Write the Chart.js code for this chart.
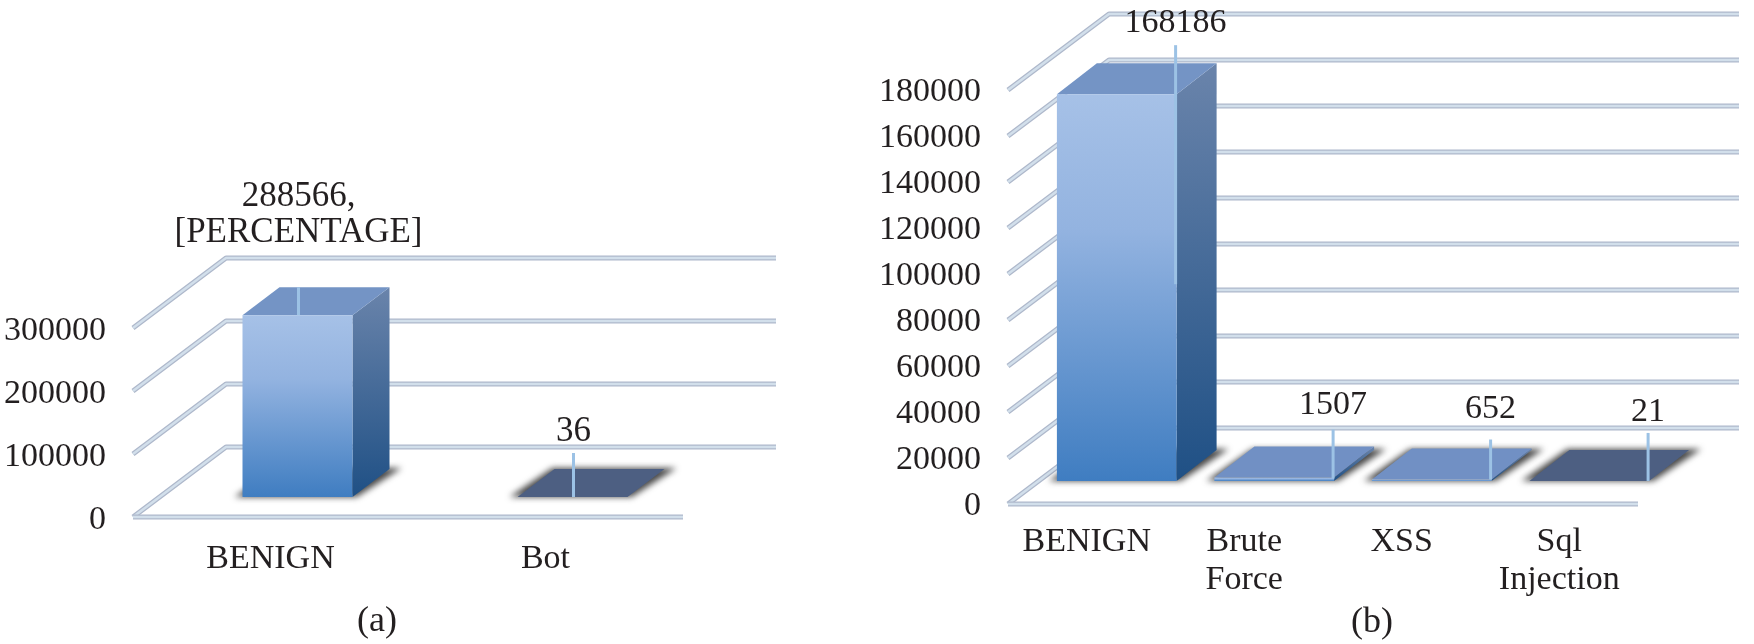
<!DOCTYPE html>
<html>
<head>
<meta charset="utf-8">
<script src="https://cdn.jsdelivr.net/npm/chart.js@4"></script>
<style>
html,body{margin:0;padding:0;background:#fff;width:1754px;height:644px;overflow:hidden}
.box{position:absolute;top:0;width:877px;height:644px}
#boxA{left:0}#boxB{left:877px}
</style>
</head>
<body>
<div class="box" id="boxA"><canvas id="chartA" width="877" height="644"></canvas></div>
<div class="box" id="boxB"><canvas id="chartB" width="877" height="644"></canvas></div>
<script>
// ---- data ----
const categoriesA = ['BENIGN', 'Bot'];
const valuesA = [288566, 36];
const valueTextA = [['288566,', '[PERCENTAGE]'], ['36']];
const captionA = '(a)';

const categoriesB = ['BENIGN', ['Brute', 'Force'], 'XSS', ['Sql', 'Injection']];
const valuesB = [168186, 1507, 652, 21];
const valueTextB = [['168186'], ['1507'], ['652'], ['21']];
const captionB = '(b)';

// ---- styling ----
const FONT = '"Liberation Serif", "Times New Roman", serif';
const TEXT = '#231f20';

const look3d = {
  id: 'look3d',
  beforeDatasetsDraw(chart, args, o) {
    const c = chart.ctx, y = chart.scales.y, a = chart.chartArea;
    c.save();
    const strokeGrid = pts => {
      [['#aeb8cb', 5], ['#d2dfeb', 2.5]].forEach(([col, w]) => {
        c.strokeStyle = col; c.lineWidth = w; c.lineJoin = 'round';
        c.beginPath();
        pts.forEach((p, i) => i ? c.lineTo(p[0], p[1]) : c.moveTo(p[0], p[1]));
        c.stroke();
      });
    };
    y.ticks.forEach((t, i) => {
      const py = y.getPixelForTick(i);
      const fx = a.left + o.front[0], fy = py + o.front[1];
      const bx = a.left + o.back[0], by = py + o.back[1];
      strokeGrid([[fx, fy], [bx, by], [a.right + o.back[0], by]]);
      if (t.value === 0) strokeGrid([[fx, fy], [a.right + o.front[0], fy]]);
    });
    const els = chart.getDatasetMeta(0).data;
    const base = y.getPixelForValue(0);
    els.forEach((el, i) => {
      const w = el.width, x0 = el.x - w / 2, x1 = el.x + w / 2, top = el.y;
      const dx = o.depth[0], dy = o.depth[1];
      // floor shadow
      c.save();
      c.filter = 'blur(3px)';
      c.fillStyle = 'rgba(40,40,40,0.85)';
      c.beginPath();
      c.moveTo(x0 - 8, base); c.lineTo(x1 + 4, base); c.lineTo(x1 + dx + 12, base - dy - 1); c.lineTo(x0 + dx - 2, base - dy - 1);
      c.closePath(); c.fill();
      c.restore();
      // side face
      const g = c.createLinearGradient(0, top - dy, 0, base);
      g.addColorStop(0, '#6a84ab'); g.addColorStop(1, '#1f5085');
      c.fillStyle = g;
      c.beginPath();
      c.moveTo(x1, top); c.lineTo(x1 + dx, top - dy); c.lineTo(x1 + dx, base - dy); c.lineTo(x1, base);
      c.closePath(); c.fill();
      // top face
      c.fillStyle = o.topColors[i];
      c.beginPath();
      c.moveTo(x0, top); c.lineTo(x1, top); c.lineTo(x1 + dx, top - dy); c.lineTo(x0 + dx, top - dy);
      c.closePath(); c.fill();
    });
    c.restore();
  },
  afterDatasetsDraw(chart, args, o) {
    const c = chart.ctx;
    c.save();
    chart.getDatasetMeta(0).data.forEach((el, i) => {
      const lx = o.leaderAtEdge ? el.x + el.width / 2 - 1 : el.x + 1;
      const L = o.leaders[i];
      c.strokeStyle = '#9cc2e5'; c.lineWidth = 3;
      c.beginPath(); c.moveTo(lx, el.y + L[0]); c.lineTo(lx, el.y + L[1]); c.stroke();
      c.fillStyle = TEXT; c.textAlign = 'center'; c.textBaseline = 'middle';
      c.font = o.fontSize + 'px ' + FONT;
      const lines = o.texts[i];
      lines.forEach((s, k) => {
        c.fillText(s, lx, el.y + L[2] - (lines.length - 1 - k) * 36);
      });
    });
    c.font = '36px ' + FONT;
    c.fillStyle = TEXT; c.textAlign = 'center'; c.textBaseline = 'middle';
    c.fillText(o.caption, o.captionPos[0], o.captionPos[1]);
    c.restore();
  }
};

function frontFill(ctx) {
  const chart = ctx.chart;
  if (!chart.chartArea || ctx.parsed === undefined) return '#5b8fd0';
  const y = chart.scales.y;
  const g = chart.ctx.createLinearGradient(0, y.getPixelForValue(ctx.parsed.y), 0, y.getPixelForValue(0));
  g.addColorStop(0, '#a6c1e7'); g.addColorStop(0.35, '#93b3e0'); g.addColorStop(1, '#3f7dc1');
  return g;
}

const AXIS_BAND = 135;

function makeChart(id, labels, values, cfg) {
  return new Chart(document.getElementById(id), {
    type: 'bar',
    data: { labels, datasets: [{ data: values, backgroundColor: frontFill, borderWidth: 0,
      barPercentage: cfg.barShare, categoryPercentage: 1, clip: false }] },
    plugins: [look3d],
    options: {
      responsive: false, animation: false,
      layout: { padding: { left: 0, right: cfg.padR, top: cfg.padT, bottom: cfg.padB - AXIS_BAND } },
      plugins: { legend: { display: false }, tooltip: { enabled: false }, title: { display: false },
        look3d: cfg.look },
      scales: {
        x: {
          grid: { display: false, drawTicks: false }, border: { display: false },
          afterFit: s => { s.height = AXIS_BAND; s.paddingLeft = 0; s.paddingRight = 0; },
          ticks: { autoSkip: false, maxRotation: 0, minRotation: 0, padding: cfg.xPad,
            labelOffset: cfg.look.front[0], color: TEXT, font: { family: FONT, size: 34, lineHeight: 1.12 } }
        },
        y: {
          min: 0, max: cfg.max,
          grid: { display: false, drawTicks: false }, border: { display: false },
          afterFit: s => { s.width = cfg.plotLeft; s.paddingTop = 0; s.paddingBottom = 0; },
          ticks: { stepSize: cfg.step, padding: cfg.tickPad, labelOffset: cfg.look.front[1] + cfg.tickShift,
            color: TEXT, font: { family: FONT, size: 34 }, callback: v => String(v) }
        }
      }
    }
  });
}

makeChart('chartA', categoriesA, valuesA, {
  barShare: 0.4, padR: 167, padT: 308, padB: 147, plotLeft: 160, tickPad: 54, max: 300000, step: 100000,
  xPad: 43, tickShift: 3,
  look: { front: [-27, 20], back: [66, -50], depth: [37, 28],
    topColors: ['#7494c5', '#4d5f82'], texts: valueTextA, fontSize: 35,
    leaders: [[-28, 0, -82], [-44, 0, -65]], leaderAtEdge: false,
    caption: captionA, captionPos: [377, 622] }
});

makeChart('chartB', categoriesB, valuesB, {
  barShare: 0.76, padR: 86, padT: 67, padB: 163, plotLeft: 161, tickPad: 57, max: 180000, step: 20000,
  xPad: 42, tickShift: 2,
  look: { front: [-30, 23], back: [71, -53], depth: [40, 31],
    topColors: ['#7494c5', '#7190c4', '#7190c4', '#4d5f82'], texts: valueTextB, fontSize: 34,
    leaders: [[-49, 190, -71], [-48, 1, -72], [-40, 0, -70], [-48, 0, -69]], leaderAtEdge: true,
    caption: captionB, captionPos: [495, 623] }
});
</script>
</body>
</html>
